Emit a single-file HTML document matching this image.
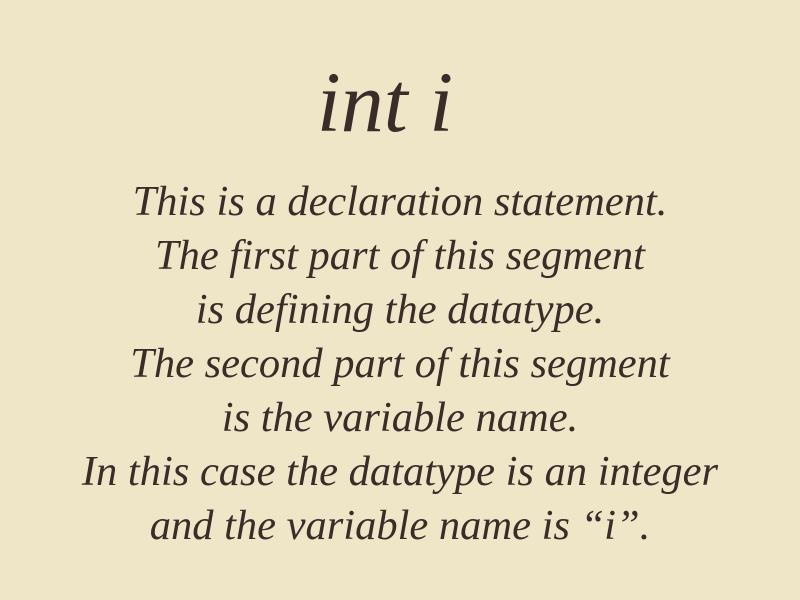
<!DOCTYPE html>
<html><head><meta charset="utf-8"><style>
html,body{margin:0;padding:0;}
body{width:800px;height:600px;background:#efe6c8;position:relative;overflow:hidden;font-family:"Liberation Serif",serif;font-style:italic;color:#3b2b29;}
.t{position:absolute;left:0;width:800px;text-align:center;white-space:nowrap;}
.title{font-size:86px;top:52px;left:-15px;}
.l{font-size:42.5px;line-height:54px;}
</style></head><body>
<div class="t title">int i</div>
<div class="t l" style="top:175px">This is a declaration statement.</div>
<div class="t l" style="top:229px">The first part of this segment</div>
<div class="t l" style="top:283px">is defining the datatype.</div>
<div class="t l" style="top:337px">The second part of this segment</div>
<div class="t l" style="top:391px">is the variable name.</div>
<div class="t l" style="top:445px">In this case the datatype is an integer</div>
<div class="t l" style="top:499px">and the variable name is “i”.</div>
</body></html>
